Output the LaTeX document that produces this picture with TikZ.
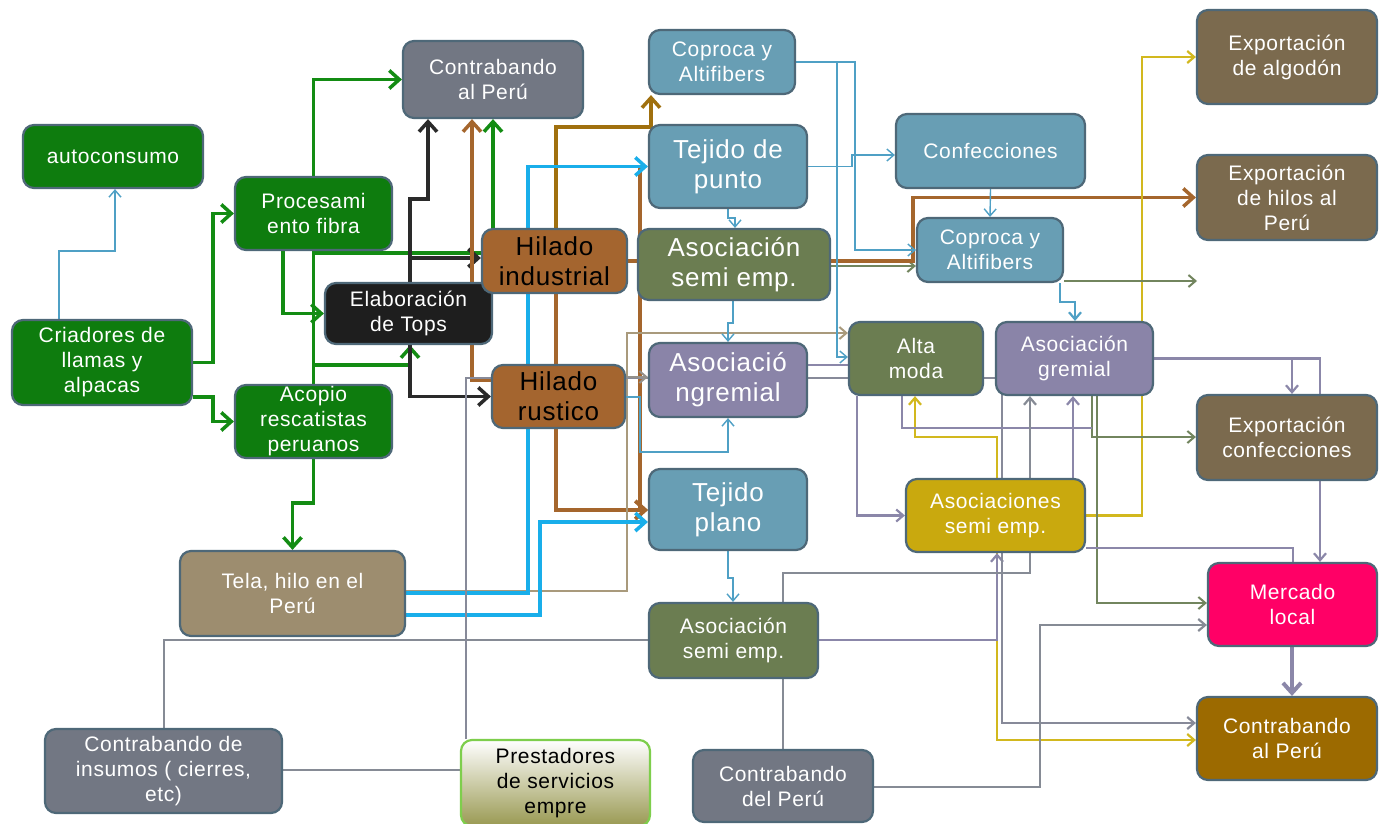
\documentclass[tikz,border=0pt]{standalone}
\usepackage{fontspec}
\setmainfont{Liberation Sans}[LetterSpace=3]
\usetikzlibrary{arrows.meta}
\pgfdeclarelayer{bg}
\pgfsetlayers{bg,main}
\definecolor{bordc}{HTML}{4E6878}
\definecolor{fgreen}{HTML}{0E7C0E}
\definecolor{fgray}{HTML}{727783}
\definecolor{fteal}{HTML}{689EB4}
\definecolor{fexp}{HTML}{7B6A4E}
\definecolor{fblack}{HTML}{1E1E1E}
\definecolor{fhil}{HTML}{A4652F}
\definecolor{folive}{HTML}{6B7D51}
\definecolor{fpurp}{HTML}{8A84A8}
\definecolor{fmust}{HTML}{C9A90E}
\definecolor{ftan}{HTML}{9D8D6F}
\definecolor{fmag}{HTML}{FF0066}
\definecolor{fcbr}{HTML}{9C6A00}
\definecolor{lgreen}{HTML}{138C13}
\definecolor{lblack}{HTML}{2A2A2A}
\definecolor{lbrown}{HTML}{A5662D}
\definecolor{lgold}{HTML}{A0700E}
\definecolor{lcyan}{HTML}{19AEEA}
\definecolor{lteal}{HTML}{4FA0C5}
\definecolor{ltan}{HTML}{A99A7C}
\definecolor{lolive}{HTML}{72855E}
\definecolor{lpurp}{HTML}{8B87A9}
\definecolor{lgray}{HTML}{868B95}
\definecolor{lyel}{HTML}{D2B81E}
\begin{document}
\begin{tikzpicture}[x=1pt,y=-1pt,
  box/.style={draw=bordc, line width=2.2pt, rounded corners=11pt, align=center,
    inner sep=0pt, text=white, font=\fontsize{21}{25}\selectfont},
  big/.style={font=\fontsize{26}{30}\selectfont},
  thickarr/.style={-{Straight Barb[length=10pt,width=18pt]}},
  thinarr/.style={-{Straight Barb[length=7pt,width=12pt]}},
  gline/.style={draw=lgreen, line width=3.5pt},
  kline/.style={draw=lblack, line width=3.5pt},
  bline/.style={draw=lbrown, line width=3.5pt},
  cline/.style={draw=lcyan, line width=3.5pt},
  tline/.style={draw=lteal, line width=1.4pt},
  tnline/.style={draw=ltan, line width=2pt},
  oline/.style={draw=lolive, line width=2pt},
  pline/.style={draw=lpurp, line width=2.2pt},
  grline/.style={draw=lgray, line width=2pt},
  yline/.style={draw=lyel, line width=2.2pt},
  line join=miter]
\useasboundingbox (0,0) rectangle (1379,823);
\begin{pgfonlayer}{bg}
\fill[white] (0,0) rectangle (1379,823);
\end{pgfonlayer}

% nodes
\node[box, fill=fgreen, minimum width=180pt, minimum height=63pt] (auto) at (113,156.5) {autoconsumo};
\node[box, fill=fgreen, minimum width=157pt, minimum height=73pt] (proc) at (313.5,213.5) {Procesami\\ento fibra};
\node[box, fill=fgray, minimum width=180pt, minimum height=77pt] (contra1) at (493,79.5) {Contrabando\\al Perú};
\node[box, fill=fteal, minimum width=146pt, minimum height=64pt] (cop1) at (722,62) {Coproca y\\Altifibers};
\node[box, big, fill=fteal, minimum width=158pt, minimum height=83pt] (tpunto) at (728,166.5) {Tejido de\\punto};
\node[box, fill=fteal, minimum width=189pt, minimum height=74pt] (conf) at (990.5,151) {Confecciones};
\node[box, fill=fexp, minimum width=180pt, minimum height=94pt] (expalg) at (1287,57) {Exportación\\de algodón};
\node[box, fill=fexp, minimum width=180pt, minimum height=85pt] (exphil) at (1287,197.5) {Exportación\\de hilos al\\Perú};
\node[box, fill=fgreen, minimum width=180pt, minimum height=85pt] (cria) at (102,362.5) {Criadores de\\llamas y\\alpacas};
\node[box, fill=fblack, minimum width=167pt, minimum height=61pt] (tops) at (408.5,313.5) {Elaboración\\de Tops};
\node[box, big, fill=fhil, text=black, minimum width=145pt, minimum height=64pt] (hind) at (554.5,261) {Hilado\\industrial};
\node[box, big, fill=folive, minimum width=192pt, minimum height=71pt] (asm1) at (734,264.5) {Asociación\\semi emp.};
\node[box, fill=fteal, minimum width=146pt, minimum height=64pt] (cop2) at (990,250) {Coproca y\\Altifibers};
\node[box, fill=fgreen, minimum width=157pt, minimum height=73pt] (acop) at (313.5,421.5) {Acopio\\rescatistas\\peruanos};
\node[box, big, fill=fhil, text=black, minimum width=133pt, minimum height=63pt] (hrus) at (558.5,396.5) {Hilado\\rustico};
\node[box, big, fill=fpurp, minimum width=158pt, minimum height=74pt] (agrem1) at (728,380) {Asociació\\ngremial};
\node[box, fill=folive, minimum width=134pt, minimum height=73pt] (alta) at (916,358.5) {Alta\\moda};
\node[box, fill=fpurp, minimum width=157pt, minimum height=73pt] (agrem2) at (1074.5,358.5) {Asociación\\gremial};
\node[box, fill=fexp, minimum width=180pt, minimum height=85pt] (expconf) at (1287,437.5) {Exportación\\confecciones};
\node[box, big, fill=fteal, minimum width=158pt, minimum height=81pt] (tplano) at (728,509.5) {Tejido\\plano};
\node[box, fill=fmust, minimum width=179pt, minimum height=73pt] (asemi) at (995.5,515.5) {Asociaciones\\semi emp.};
\node[box, fill=ftan, minimum width=225pt, minimum height=85pt] (tela) at (292.5,593.5) {Tela, hilo en el\\Perú};
\node[box, fill=fmag, minimum width=169pt, minimum height=83pt] (merc) at (1292.5,604.5) {Mercado\\local};
\node[box, fill=folive, minimum width=169pt, minimum height=75pt] (asm2) at (733.5,640.5) {Asociación\\semi emp.};
\node[box, fill=fgray, minimum width=237pt, minimum height=84pt] (cins) at (163.5,771) {Contrabando de\\insumos ( cierres,\\etc)};
\node[box, draw=green!45!olive!70, top color=white, bottom color=olive!35!gray!80, text=black, minimum width=189pt, minimum height=86pt] (prest) at (555.5,783) {Prestadores\\de servicios\\empre};
\node[box, fill=fgray, minimum width=180pt, minimum height=72pt] (cdel) at (783,786) {Contrabando\\del Perú};
\node[box, fill=fcbr, minimum width=180pt, minimum height=83pt] (calp) at (1287,738.5) {Contrabando\\al Perú};
\coordinate (oend) at (1197,281);

\begin{pgfonlayer}{bg}
% green
\draw[gline,thickarr] (cria.east) -- (213,362.5) |- (proc.west);
\draw[gline,thickarr] (cria.east |- 0,397) -- (213,397) |- (acop.west);
\draw[gline,thickarr] (proc.north) |- (contra1.west);
\draw[gline,thickarr] (proc.south -| 283,0) |- (tops.west);
\draw[gline,thickarr] (acop.north) -- (313.5,253) -- (493,253) -- (contra1.south -| 493,0);
\draw[gline,thickarr] (acop.north) |- (410,365) -- (tops.south -| 410,0);
\draw[gline,thickarr] (acop.south) -- (313.5,503) -| (tela.north);
% black
\draw[kline,thickarr] (tops.north -| 410,0) -- (410,199) -- (428,199) -- (contra1.south -| 428,0);
\draw[kline,thickarr] (tops.north -| 410,0) -- (410,258) -- (hind.west |- 0,258);
\draw[kline,thickarr] (tops.south -| 410,0) |- (hrus.west);
% brown
\draw[bline,thickarr] (hrus.west |- 0,380) -- (472,380) -- (contra1.south -| 472,0);
\draw[bline,draw=lgold,thickarr] (hind.north -| 556,0) -- (556,127) -- (651,127) -- (cop1.south -| 651,0);
\draw[bline,thickarr] (hind.south -| 556,0) -- (556,510) -- (tplano.west |- 0,510);
\draw[bline,thickarr] (tpunto.west -| 640,0) -- (640,510) -- (tplano.west |- 0,510);
\draw[oline,thinarr] (asm1.east |- 0,266) -- (cop2.west |- 0,266);
\draw[bline,thickarr] (hind.east) -- (913,261) |- (exphil.west);
% tan
\draw[tnline,thinarr] (tela.east |- 0,591) -- (627,591) -- (627,333) -- (alta.west |- 0,333);
% cyan
\draw[cline,thickarr] (tela.east |- 0,593) -- (528,593) |- (tpunto.west);
\draw[cline,thickarr] (tela.east |- 0,615) -- (540,615) |- (tplano.west |- 0,522);
% teal
\draw[tline,thinarr] (cria.north -| 59,0) -- (59,251) -- (115,251) -- (auto.south -| 115,0);
\draw[tline,thinarr] (tpunto.south -| 728,0) -- (728,218) -- (735,218) -- (asm1.north -| 735,0);
\draw[tline,thinarr] (tpunto.east) -- (852,166.5) -- (852,155) -- (conf.west |- 0,155);
\draw[tline,thinarr] (cop1.east |- 0,62) -- (855,62) -- (855,250) -- (cop2.west);
\draw[tline,thinarr] (cop1.east |- 0,62) -- (837,62) -- (837,357) -- (alta.west |- 0,357);
\draw[tline,thinarr] (conf.south) -- (cop2.north);
\draw[tline,thinarr] (asm1.south -| 733,0) -- (733,323) -- (728,323) -- (agrem1.north -| 728,0);
\draw[tline,line width=2.2pt,thinarr] (cop2.south -| 1060,0) -- (1060,302) -- (1075,302) -- (agrem2.north -| 1075,0);
\draw[tline,thinarr] (hrus.east |- 0,397) -- (640,397) -- (640,452) -- (728,452) -- (agrem1.south -| 728,0);
\draw[tline,thinarr] (tplano.south -| 728,0) -- (728,578) -- (733,578) -- (asm2.north -| 733,0);
% yellow
\draw[yline,thinarr] (asemi.north -| 997,0) -- (997,437) -- (915,437) -- (alta.south -| 915,0);
\draw[yline,thinarr] (asemi.east) -- (1142,515.5) |- (expalg.west);
\draw[yline,thinarr] (asemi.south -| 997,0) -- (997,740) -- (calp.west |- 0,740);
% gray
\draw[grline] (cins.north) -- (163.5,640) -- (asm2.west |- 0,640);
\draw[pline,thinarr] (asm2.east |- 0,640) -- (997,640) -- (asemi.south -| 997,0);
\draw[grline] (cins.east |- 0,770) -- (prest.west |- 0,770);
\draw[pline,draw=lgray!80!lpurp,thinarr] (prest.north -| 466,0) -- (466,378) -- (1002,378) -- (1002,723) -- (calp.west |- 0,723);
\draw[tnline,draw=lgray!60!ltan,thinarr] (hrus.east |- 0,377) -- (agrem1.west |- 0,377);
% olive
\draw[oline,thinarr] (cop2.east |- 0,281) -- (oend);
\draw[oline,thinarr] (agrem2.south -| 1092,0) -- (1092,437) -- (expconf.west |- 0,437);
\draw[oline,thinarr] (agrem2.south -| 1097,0) -- (1097,603) -- (merc.west |- 0,603);
% purple
\draw[pline,thinarr] (agrem2.east) -- (1320,358.5) -- (merc.north -| 1320,0);
\draw[pline,thinarr] (agrem2.east) -- (1292,358.5) -- (expconf.north -| 1292,0);
\draw[pline,line width=4pt,thickarr] (merc.south -| 1292,0) -- (calp.north -| 1292,0);
\draw[pline] (asemi.east |- 0,548) -- (1293,548) -- (merc.north -| 1293,0);
\draw[pline,thinarr] (alta.south -| 857,0) -- (857,515.5) -- (asemi.west);
\draw[pline] (alta.south -| 902,0) -- (902,428) -- (1092,428);
\draw[pline,draw=lgray,thinarr] (cdel.north) -- (783,573) -- (1030,573) -- (agrem2.south -| 1030,0);
\draw[pline,thinarr] (asemi.north -| 1073,0) -- (agrem2.south -| 1073,0);
\draw[pline,draw=lgray,thinarr] (cdel.east |- 0,787) -- (1040,787) -- (1040,625) -- (merc.west |- 0,625);
\draw[pline] (agrem1.east |- 0,365) -- (alta.west |- 0,365);
\end{pgfonlayer}
\end{tikzpicture}
\end{document}
